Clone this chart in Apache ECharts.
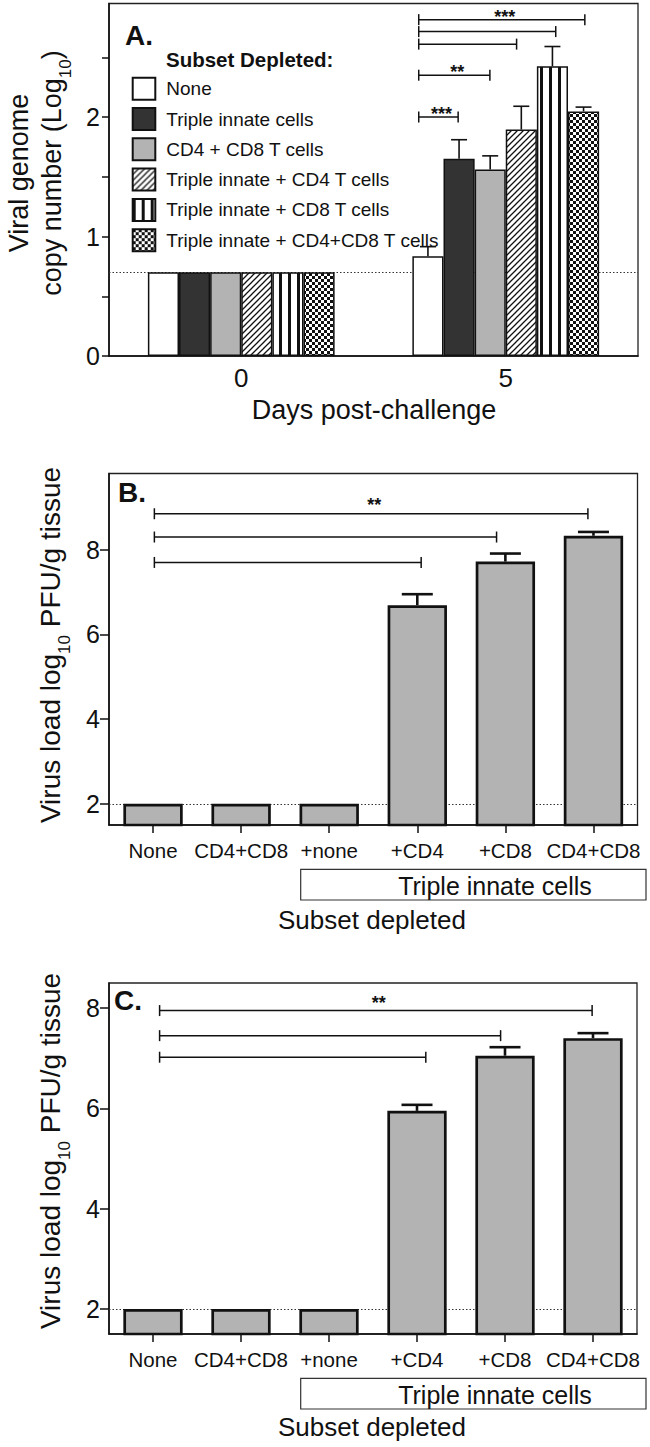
<!DOCTYPE html>
<html><head><meta charset="utf-8">
<script src="https://cdn.jsdelivr.net/npm/echarts@6/dist/echarts.min.js"></script>
<style>html,body{margin:0;padding:0;background:#fff}#c{width:650px;height:1447px}</style>
</head><body><div id="c"></div>
<script>
// ---------- Panel A data ----------
const daysA = ['0', '5'];
const subsetsA = ['None', 'Triple innate cells', 'CD4 + CD8 T cells', 'Triple innate + CD4 T cells', 'Triple innate + CD8 T cells', 'Triple innate + CD4+CD8 T cells'];
const day0A = [0.7, 0.7, 0.7, 0.7, 0.7, 0.7];
const day5A = [0.835, 1.65, 1.56, 1.895, 2.425, 2.047];
const day5ErrTopA = [0.915, 1.81, 1.675, 2.09, 2.59, 2.083];
const limitA = 0.7;
const yTicksA = [0, 0.5, 1, 1.5, 2, 2.5];
const yLabelsA = [0, 1, 2];
// brackets: [start (category units), end (category units), level, stars]
const bracketsA = [[0.671, 0.82, 2.0, '***'], [0.671, 0.94, 2.35, '**'], [0.671, 1.041, 2.61, ''], [0.671, 1.189, 2.715, ''], [0.671, 1.299, 2.815, '***']];

// ---------- Panels B & C data ----------
const groupsBC = ['None', 'CD4+CD8', '+none', '+CD4', '+CD8', 'CD4+CD8'];
const valuesB = [2, 2, 2, 6.69, 7.72, 8.33];
const errTopB = [null, null, null, 6.95, 7.91, 8.42];
const bracketsB = [[0.015, 3.044, 7.70, ''], [0.015, 3.90, 8.3, ''], [0.015, 4.937, 8.85, '**']];
const yLabelsB = [2, 4, 6, 8];
const valuesC = [2, 2, 2, 5.95, 7.05, 7.40];
const errTopC = [null, null, null, 6.07, 7.22, 7.50];
const bracketsC = [[0.075, 3.10, 7.02, ''], [0.075, 3.95, 7.45, ''], [0.075, 4.99, 7.95, '**']];
const yLabelsC = [2, 4, 6, 8];
const limitBC = 2;

// ---------- styles ----------
const FONT = "'Liberation Sans', Arial, Helvetica, sans-serif";
const INK = '#111';
const GAP_A = 0.294;

function tile(kind) {
  const c = document.createElement('canvas');
  let w = 6, h = 6;
  if (kind === 'vstripe') { w = 9; h = 9; }
  c.width = w; c.height = h;
  const g = c.getContext('2d');
  g.fillStyle = '#fff'; g.fillRect(0, 0, w, h);
  g.fillStyle = INK; g.strokeStyle = INK;
  if (kind === 'hatch') {
    g.lineWidth = 1.3; g.beginPath();
    g.moveTo(-1, 7); g.lineTo(7, -1);
    g.moveTo(-1, 1); g.lineTo(1, -1);
    g.moveTo(5, 7); g.lineTo(7, 5);
    g.stroke();
  } else if (kind === 'vstripe') {
    g.fillRect(0, 0, 3, h);
  } else {
    g.fillRect(0, 0, 3, 3); g.fillRect(3, 3, 3, 3);
  }
  return { image: c.toDataURL(), repeat: 'repeat', imageWidth: w, imageHeight: h };
}
const fillsA = ['#ffffff', '#333333', '#b3b3b3', tile('hatch'), tile('vstripe'), tile('checker')];

const grids = [
  { left: 109, top: 3.5, width: 529, height: 352.5 },
  { left: 109, top: 473.5, width: 528.5, height: 351.5 },
  { left: 109, top: 983, width: 528, height: 351 }
].map(g => Object.assign({ show: true, borderColor: '#222', borderWidth: 1.3, backgroundColor: 'transparent' }, g));

const axisLine = { show: true, lineStyle: { color: INK, width: 1.6 } };

function yAxis(gi, min, max, ticks, labels, tickLen) {
  return {
    type: 'value', gridIndex: gi, min, max,
    axisLine, splitLine: { show: false },
    axisTick: { show: true, length: tickLen, customValues: ticks, lineStyle: { color: INK, width: 1.5 } },
    axisLabel: { customValues: labels, fontFamily: FONT, fontSize: 25, color: INK, margin: 9 }
  };
}

function bracketSeries(xi, yi, list, starGap, starSize) {
  return {
    type: 'custom', xAxisIndex: xi, yAxisIndex: yi, clip: false, z: 4, silent: true,
    data: list.map(b => [0, b[2]]),
    renderItem(params, api) {
      const b = list[params.dataIndex];
      const band = api.size([1, 0])[0];
      const c = api.coord([0, b[2]]);
      const x1 = c[0] + b[0] * band, x2 = c[0] + b[1] * band, y = c[1];
      const st = { stroke: INK, lineWidth: 1.5 };
      const ch = [
        { type: 'line', shape: { x1, y1: y, x2, y2: y }, style: st },
        { type: 'line', shape: { x1, y1: y - 5.5, x2: x1, y2: y + 5.5 }, style: st },
        { type: 'line', shape: { x1: x2, y1: y - 5.5, x2, y2: y + 5.5 }, style: st }
      ];
      if (b[3]) ch.push({ type: 'text', x: (x1 + x2) / 2 + 3, y: y - starGap,
        style: { text: b[3], fontFamily: FONT, fontWeight: 'bold', fontSize: starSize, fill: INK, align: 'center', verticalAlign: 'middle' } });
      return { type: 'group', children: ch };
    }
  };
}

function errSeriesBC(xi, yi, vals, errs) {
  return {
    type: 'custom', xAxisIndex: xi, yAxisIndex: yi, clip: false, z: 3, silent: true,
    data: vals.map((v, i) => [i, v]),
    renderItem(params, api) {
      const i = params.dataIndex;
      if (errs[i] == null) return null;
      const p0 = api.coord([i, vals[i]]), p1 = api.coord([i, errs[i]]);
      const st = { stroke: INK, lineWidth: 2.6 };
      return { type: 'group', children: [
        { type: 'line', shape: { x1: p0[0], y1: p0[1], x2: p0[0], y2: p1[1] }, style: st },
        { type: 'line', shape: { x1: p0[0] - 15.5, y1: p1[1], x2: p0[0] + 15.5, y2: p1[1] }, style: st }
      ] };
    }
  };
}

function barsBC(xi, yi, vals) {
  return {
    type: 'bar', xAxisIndex: xi, yAxisIndex: yi, data: vals, barCategoryGap: '32.6%', z: 2, silent: true,
    itemStyle: { color: '#b3b3b3', borderColor: INK, borderWidth: 2.7 },
    markLine: { z: 1, silent: true, symbol: ['none', 'none'], label: { show: false },
      lineStyle: { type: [1.5, 2], color: '#333', width: 1 }, data: [{ yAxis: limitBC }] }
  };
}

const seriesA = subsetsA.map((name, i) => ({
  type: 'bar', name, xAxisIndex: 0, yAxisIndex: 0, z: 2, silent: true,
  data: [day0A[i], day5A[i]], barGap: '0%', barCategoryGap: (GAP_A * 100) + '%',
  itemStyle: { color: fillsA[i], borderColor: INK, borderWidth: 1.5 },
  markLine: i === 0 ? { z: 1, silent: true, symbol: ['none', 'none'], label: { show: false },
    lineStyle: { type: [1.5, 2], color: '#333', width: 1 }, data: [{ yAxis: limitA }] } : undefined
}));

const errA = {
  type: 'custom', xAxisIndex: 0, yAxisIndex: 0, clip: false, z: 3, silent: true,
  data: day5A.map(v => [1, v]),
  renderItem(params, api) {
    const i = params.dataIndex;
    const band = api.size([1, 0])[0];
    const bw = band * (1 - GAP_A) / subsetsA.length;
    const p0 = api.coord([1, day5A[i]]), p1 = api.coord([1, day5ErrTopA[i]]);
    const x = p0[0] + (i - (subsetsA.length - 1) / 2) * bw;
    const st = { stroke: INK, lineWidth: 1.6 };
    return { type: 'group', children: [
      { type: 'line', shape: { x1: x, y1: p0[1], x2: x, y2: p1[1] }, style: st },
      { type: 'line', shape: { x1: x - 8, y1: p1[1], x2: x + 8, y2: p1[1] }, style: st }
    ] };
  }
};

const xLabelBC = { fontFamily: FONT, fontSize: 20.5, color: INK, margin: 15, interval: 0 };
const xAxes = [
  { type: 'category', gridIndex: 0, data: daysA, axisLine, axisTick: { show: false },
    axisLabel: { fontFamily: FONT, fontSize: 26, color: INK, margin: 9 } },
  { type: 'category', gridIndex: 1, data: groupsBC, axisLine,
    axisTick: { show: true, alignWithLabel: true, length: 8, lineStyle: { color: INK, width: 1.5 } },
    axisLabel: xLabelBC },
  { type: 'category', gridIndex: 2, data: groupsBC, axisLine,
    axisTick: { show: true, alignWithLabel: true, length: 8, lineStyle: { color: INK, width: 1.5 } },
    axisLabel: xLabelBC }
];

const yAxes = [
  yAxis(0, 0, 2.95, yTicksA, yLabelsA, 7),
  yAxis(1, 1.5, 9.8, yLabelsB, yLabelsB, 9),
  yAxis(2, 1.5, 8.5, yLabelsC, yLabelsC, 9)
];

const sub = { fontFamily: FONT, fontSize: 17, verticalAlign: 'bottom', lineHeight: 33, padding: [0, 0, -6, 0] };
function txt(x, y, text, opt) {
  return Object.assign({ type: 'text', x, y, silent: true,
    style: Object.assign({ text, fontFamily: FONT, fontSize: 27, fill: INK, align: 'center', verticalAlign: 'middle' }, opt.style || {}) },
    opt.rotation ? { rotation: opt.rotation } : {});
}

const graphics = [
  txt(139, 35, 'A.', { style: { fontWeight: 'bold', fontSize: 28 } }),
  txt(166, 59, 'Subset Depleted:', { style: { fontWeight: 'bold', fontSize: 20.5, align: 'left' } }),
  txt(35, 173, 'Viral genome\ncopy number (Log{sub|10})', { rotation: Math.PI / 2, style: { lineHeight: 33, rich: { sub } } }),
  txt(374, 410, 'Days post-challenge', {}),
  txt(132, 492, 'B.', { style: { fontWeight: 'bold', fontSize: 28 } }),
  txt(50, 645, 'Virus load log{sub|10} PFU/g tissue', { rotation: Math.PI / 2, style: { fontSize: 28, lineHeight: 33, rich: { sub } } }),
  { type: 'rect', silent: true, shape: { x: 300.7, y: 869.3, width: 345.3, height: 30.7 }, style: { fill: 'none', stroke: '#333', lineWidth: 1.2 } },
  txt(495, 886, 'Triple innate cells', { style: { fontSize: 25 } }),
  txt(372, 920, 'Subset depleted', { style: { fontSize: 26 } }),
  txt(128, 1000, 'C.', { style: { fontWeight: 'bold', fontSize: 28 } }),
  txt(50, 1151, 'Virus load log{sub|10} PFU/g tissue', { rotation: Math.PI / 2, style: { fontSize: 28, lineHeight: 33, rich: { sub } } }),
  { type: 'rect', silent: true, shape: { x: 300.7, y: 1378.3, width: 345.3, height: 30.7 }, style: { fill: 'none', stroke: '#333', lineWidth: 1.2 } },
  txt(495, 1395, 'Triple innate cells', { style: { fontSize: 25 } }),
  txt(372, 1427, 'Subset depleted', { style: { fontSize: 26 } })
];

const chart = echarts.init(document.getElementById('c'), null, { renderer: 'svg', width: 650, height: 1447 });
chart.setOption({
  backgroundColor: '#fff',
  animation: false,
  grid: grids,
  xAxis: xAxes,
  yAxis: yAxes,
  legend: {
    data: subsetsA, orient: 'vertical', left: 131.7, top: 76.7, padding: 0,
    itemWidth: 22.6, itemHeight: 22, itemGap: 6.3, icon: 'rect', selectedMode: false,
    textStyle: { fontFamily: FONT, fontSize: 19, color: INK, lineHeight: 22, padding: [0, 0, 0, 6] }
  },
  graphic: graphics,
  series: [
    ...seriesA, errA, bracketSeries(0, 0, bracketsA, 3, 18),
    barsBC(1, 1, valuesB), errSeriesBC(1, 1, valuesB, errTopB), bracketSeries(1, 1, bracketsB, 9, 18),
    barsBC(2, 2, valuesC), errSeriesBC(2, 2, valuesC, errTopC), bracketSeries(2, 2, bracketsC, 8, 18)
  ]
});
</script></body></html>
